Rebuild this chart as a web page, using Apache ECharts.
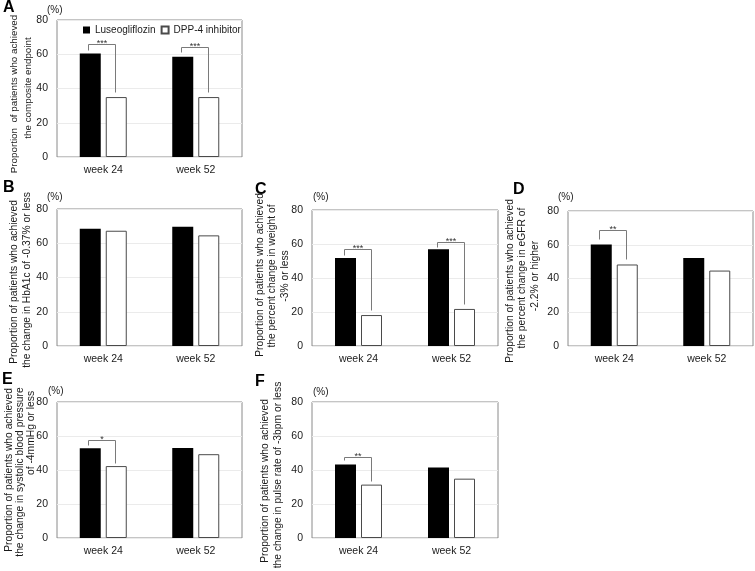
<!DOCTYPE html>
<html>
<head>
<meta charset="utf-8">
<script src="https://cdn.jsdelivr.net/npm/echarts@6/dist/echarts.min.js"></script>
<style>
html,body{margin:0;padding:0;background:#fff;}
#chart{width:755px;height:571px;}
</style>
</head>
<body>
<div id="chart"></div>
<script>
// ---------- data ----------
const categories = ['week 24', 'week 52'];
const seriesNames = ['Luseogliflozin', 'DPP-4 inhibitor'];
const yMin = 0, yMax = 80, yStep = 20;

const lusA = [60.5, 58.6], dppA = [35.0, 35.0];
const lusB = [68.5, 69.7], dppB = [67.3, 64.6];
const lusC = [51.8, 56.9], dppC = [18.2, 21.8];
const lusD = [60.1, 52.1], dppD = [48.3, 44.7];
const lusE = [52.8, 53.0], dppE = [42.3, 49.3];
const lusF = [43.2, 41.4], dppF = [31.4, 34.9];

// significance brackets: category index, left start, top, right end (in % units), label
const sigA = [[0, 62.5, 65.8, 38.0], [1, 61.5, 64.4, 37.8]], sigLabA = ['***', '***'];
const sigB = [], sigLabB = [];
const sigC = [[0, 53.5, 57.0, 21.0], [1, 58.4, 61.4, 24.7]], sigLabC = ['***', '***'];
const sigD = [[0, 63.7, 68.6, 51.3]], sigLabD = ['**'];
const sigE = [[0, 54.5, 57.9, 44.1]], sigLabE = ['*'];
const sigF = [[0, 45.7, 47.6, 33.4]], sigLabF = ['**'];

const letters = ['A', 'B', 'C', 'D', 'E', 'F'];
const titleA = ['Proportion  of patients who achieved', 'the composite endpoint'];
const titleB = ['Proportion of patients who achieved', 'the change in HbA1c of -0.37% or less'];
const titleC = ['Proportion of patients who achieved', 'the percent change in weight of', '-3% or less'];
const titleD = ['Proportion of patients who achieved', 'the percent change in eGFR of', '-2.2% or higher'];
const titleE = ['Proportion of patients who achieved', 'the change in systolic blood pressure', 'of -4mmHg or less'];
const titleF = ['Proportion of patients who achieved', 'the change in pulse rate of -3bpm or less'];
const unitLabel = '(%)';

// ---------- layout ----------
const panels = [
  {lus: lusA, dpp: dppA, sig: sigA, sigLab: sigLabA, title: titleA, tfs: 9.8,
   grid: {left: 57, top: 20, width: 185, height: 137}, letter: [3, 0], unit: [47, 10],
   lines: [[14.5, 94], [28.5, 88]]},
  {lus: lusB, dpp: dppB, sig: sigB, sigLab: sigLabB, title: titleB, tfs: 10.3,
   grid: {left: 57, top: 209, width: 185, height: 137}, letter: [3, 180], unit: [47, 197],
   lines: [[14, 282], [27, 280]]},
  {lus: lusC, dpp: dppC, sig: sigC, sigLab: sigLabC, title: titleC, tfs: 10.3,
   grid: {left: 312, top: 210, width: 186, height: 136}, letter: [255, 182], unit: [313, 197],
   lines: [[260, 275], [272.5, 276], [285, 276]]},
  {lus: lusD, dpp: dppD, sig: sigD, sigLab: sigLabD, title: titleD, tfs: 10.3,
   grid: {left: 568, top: 211, width: 185, height: 135}, letter: [513, 182], unit: [558, 197],
   lines: [[510, 281], [522.5, 278], [535, 276]]},
  {lus: lusE, dpp: dppE, sig: sigE, sigLab: sigLabE, title: titleE, tfs: 10.3,
   grid: {left: 57, top: 402, width: 185, height: 136}, letter: [2, 372], unit: [48, 391],
   lines: [[9, 470], [20.5, 472], [31, 433]]},
  {lus: lusF, dpp: dppF, sig: sigF, sigLab: sigLabF, title: titleF, tfs: 10.3,
   grid: {left: 312, top: 402, width: 186, height: 136}, letter: [255, 374], unit: [313, 392],
   lines: [[265, 481], [278, 475]]}
];

const FONT = '"Liberation Sans", Arial, sans-serif';
const BAR_W = 21, BAR_GAP = 5;
const BORDER = '#8a8a8a';

const grids = [], xAxes = [], yAxes = [], series = [], graphics = [];

panels.forEach((p, i) => {
  grids.push(Object.assign({show: true, borderColor: BORDER, borderWidth: 1, backgroundColor: '#fff'}, p.grid));
  xAxes.push({
    type: 'category', gridIndex: i, data: categories,
    axisLine: {show: false}, axisTick: {show: false},
    axisLabel: {color: '#1a1a1a', fontFamily: FONT, fontSize: 10.5, margin: 8}
  });
  yAxes.push({
    type: 'value', gridIndex: i, min: yMin, max: yMax, interval: yStep,
    axisLine: {show: false}, axisTick: {show: false},
    axisLabel: {color: '#1a1a1a', fontFamily: FONT, fontSize: 10.5, margin: 9},
    splitLine: {show: true, lineStyle: {color: '#ebebeb', width: 1}}
  });
  series.push({
    name: seriesNames[0], type: 'bar', xAxisIndex: i, yAxisIndex: i, data: p.lus,
    barWidth: BAR_W, barGap: (BAR_GAP / BAR_W * 100) + '%',
    itemStyle: {color: '#000', borderColor: '#000', borderWidth: 0},
    emphasis: {disabled: true}
  });
  series.push({
    name: seriesNames[1], type: 'bar', xAxisIndex: i, yAxisIndex: i, data: p.dpp,
    barWidth: BAR_W, barGap: (BAR_GAP / BAR_W * 100) + '%',
    itemStyle: {color: '#fff', borderColor: '#4a4a4a', borderWidth: 1},
    emphasis: {disabled: true}
  });
  if (p.sig.length) {
    const labs = p.sigLab;
    series.push({
      type: 'custom', xAxisIndex: i, yAxisIndex: i, z: 5, silent: true,
      data: p.sig,
      encode: {x: 0, y: [1, 2, 3]},
      renderItem: function (params, api) {
        const idx = api.value(0);
        const c = api.coord([idx, 0]);
        const half = (BAR_W + BAR_GAP) / 2;
        const x1 = Math.round(c[0] - half - 2) + 0.5;
        const x2 = Math.round(c[0] + half - 1) + 0.5;
        const yL = Math.round(api.coord([idx, api.value(1)])[1]) + 0.5;
        const yT = Math.round(api.coord([idx, api.value(2)])[1]) + 0.5;
        const yR = Math.round(api.coord([idx, api.value(3)])[1]) + 0.5;
        return {
          type: 'group',
          children: [
            {type: 'polyline', shape: {points: [[x1, yL], [x1, yT], [x2, yT], [x2, yR]]},
             style: {stroke: '#7a7a7a', fill: null, lineWidth: 1}},
            {type: 'text', style: {text: labs[params.dataIndex], x: (x1 + x2) / 2, y: yT + 4,
             align: 'center', verticalAlign: 'bottom', fontSize: 9, fontFamily: FONT, fill: '#333'}}
          ]
        };
      }
    });
  }
  graphics.push({type: 'text', left: p.letter[0], top: p.letter[1],
    style: {text: letters[i], font: 'bold 16px ' + FONT, fill: '#000'}});
  graphics.push({type: 'text', x: p.unit[0], y: p.unit[1],
    style: {text: unitLabel, fontSize: 10, fontFamily: FONT, fill: '#1a1a1a', align: 'left', verticalAlign: 'middle'}});
  p.title.forEach((line, k) => {
    graphics.push({type: 'text', x: p.lines[k][0], y: p.lines[k][1], rotation: Math.PI / 2,
      style: {text: line, fontSize: p.tfs, fontFamily: FONT,
        fill: '#1a1a1a', align: 'center', verticalAlign: 'middle'}});
  });
});

const chart = echarts.init(document.getElementById('chart'), null, {renderer: 'canvas'});
chart.setOption({
  animation: false,
  backgroundColor: '#fff',
  legend: {
    data: seriesNames, left: 83, top: 25, padding: 0, itemWidth: 7, itemHeight: 7, itemGap: 5,
    icon: 'rect', selectedMode: false,
    textStyle: {fontFamily: FONT, fontSize: 10, color: '#1a1a1a'}
  },
  grid: grids,
  xAxis: xAxes,
  yAxis: yAxes,
  series: series,
  graphic: graphics
});
</script>
</body>
</html>
